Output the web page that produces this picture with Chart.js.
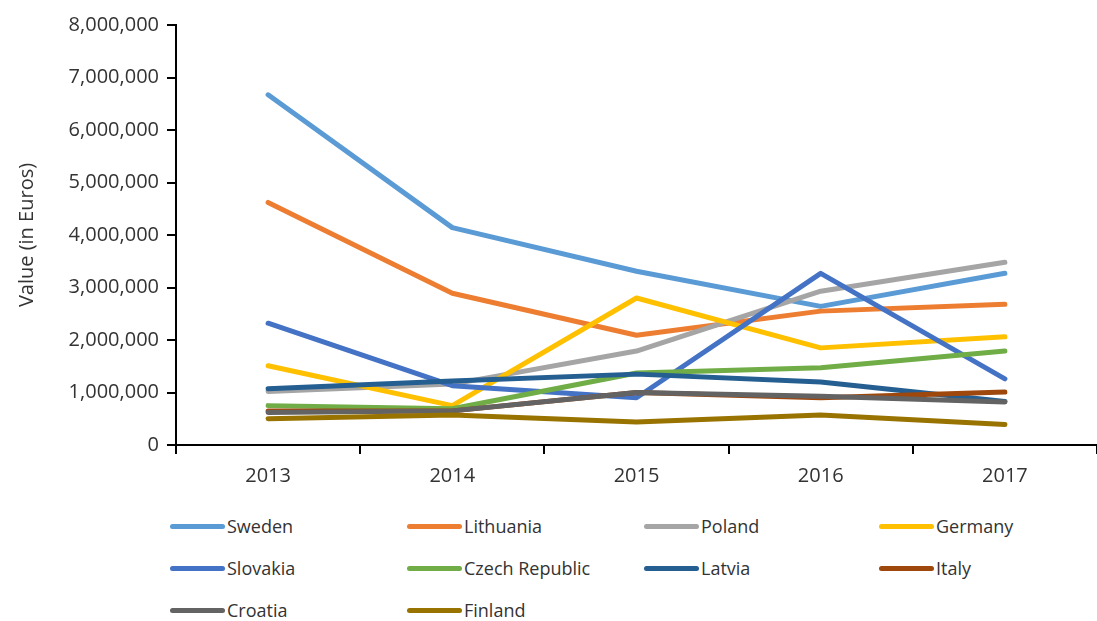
<!DOCTYPE html>
<html>
<head>
<meta charset="utf-8">
<script src="https://cdn.jsdelivr.net/npm/chart.js@4"></script>
<style>
  body { margin: 0; background: #fff; font-family: "Open Sans", sans-serif; }
  #wrap { position: relative; width: 1097px; height: 621px; }
  #chartBox { position: absolute; left: 0; top: 5px; width: 1097px; height: 490px; }
  #legend { position: absolute; left: 170px; top: 512px; display: grid;
            grid-template-columns: 237px 237px 235px 200px; grid-auto-rows: 42px; }
  .item { display: flex; align-items: center; font-size: 18px; color: #333; height: 28px; }
  .swatch { width: 55px; height: 5px; border-radius: 3px; margin-right: 2px; }
</style>
</head>
<body>
<div id="wrap">
  <div id="chartBox"><canvas id="chart"></canvas></div>
  <div id="legend"></div>
</div>
<script>
const years = ['2013', '2014', '2015', '2016', '2017'];
const countries = ['Sweden', 'Lithuania', 'Poland', 'Germany', 'Slovakia',
  'Czech Republic', 'Latvia', 'Italy', 'Croatia', 'Finland'];
const colors = ['#5B9BD5', '#ED7D31', '#A5A5A5', '#FFC000', '#4472C4',
  '#70AD47', '#255E91', '#9E480E', '#636363', '#997300'];

const sweden = [6670000, 4140000, 3310000, 2640000, 3270000];
const lithuania = [4620000, 2890000, 2090000, 2550000, 2680000];
const poland = [1020000, 1160000, 1790000, 2930000, 3480000];
const germany = [1510000, 750000, 2800000, 1850000, 2060000];
const slovakia = [2320000, 1130000, 900000, 3270000, 1260000];
const czech = [750000, 690000, 1370000, 1470000, 1790000];
const latvia = [1070000, 1220000, 1350000, 1200000, 830000];
const italy = [650000, 650000, 1000000, 900000, 1010000];
const croatia = [620000, 650000, 1000000, 930000, 820000];
const finland = [500000, 570000, 440000, 570000, 390000];

const seriesValues = [sweden, lithuania, poland, germany, slovakia,
  czech, latvia, italy, croatia, finland];

const datasets = countries.map((name, i) => ({
  label: name,
  data: seriesValues[i],
  borderColor: colors[i],
  backgroundColor: colors[i],
  borderWidth: 5,
  pointRadius: 0,
  tension: 0,
  borderCapStyle: 'round',
  borderJoinStyle: 'round',
  order: countries.length - i
}));

// legend in a grid like the original
const legend = document.getElementById('legend');
countries.forEach((name, i) => {
  const item = document.createElement('div');
  item.className = 'item';
  item.innerHTML = '<span class="swatch" style="background:' + colors[i] + '"></span>' + name;
  legend.appendChild(item);
});

const tickFont = { family: 'Open Sans', size: 20 };

const ctx = document.getElementById('chart').getContext('2d');
new Chart(ctx, {
  type: 'line',
  data: { labels: years, datasets: datasets },
  options: {
    responsive: true,
    maintainAspectRatio: false,
    animation: false,
    layout: { padding: { top: 13, right: 0, left: 11 } },
    plugins: { legend: { display: false }, tooltip: { enabled: false } },
    scales: {
      x: {
        offset: true,
        grid: { offset: true, drawOnChartArea: false, drawTicks: true, tickLength: 9, color: '#000', lineWidth: 2 },
        border: { color: '#000', width: 2 },
        ticks: { color: '#333', font: tickFont, padding: 10 },
        afterFit: (axis) => { axis.height = 50; }
      },
      y: {
        min: 0,
        max: 8000000,
        grid: { drawOnChartArea: false, drawTicks: true, tickLength: 9, color: '#000', lineWidth: 2 },
        border: { color: '#000', width: 2 },
        ticks: {
          stepSize: 1000000,
          color: '#333',
          font: tickFont,
          padding: 8,
          callback: (v) => v.toLocaleString('en-US')
        },
        title: { display: true, text: 'Value (in Euros)', color: '#333', font: { family: 'Open Sans', size: 20 } },
        afterFit: (axis) => { axis.width = 165; }
      }
    }
  }
});
</script>
</body>
</html>
